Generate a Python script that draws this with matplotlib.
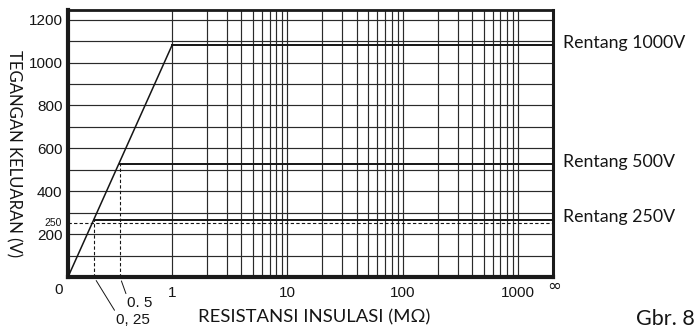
import numpy as np
import matplotlib
matplotlib.use('Agg')
import matplotlib.pyplot as plt

# data
range_names = ['Rentang 1000V', 'Rentang 500V', 'Rentang 250V']
range_volt = [1080, 525, 265]
knee_res = [1.0, 0.5, 0.25]
diag_res = [0, 1.0]
diag_volt = [0, 1080]
ref_volt = 250
grid_volt = [100, 200, 300, 400, 500, 600, 700, 800, 900, 1000, 1100, 1200]
grid_res = [1, 2, 3, 4, 5, 6, 7, 8, 9,
            10, 20, 30, 40, 50, 60, 70, 80, 90,
            100, 200, 300, 400, 500, 600, 700, 800, 900, 1000]
ytick_vals = [200, 400, 600, 800, 1000, 1200]
xtick_vals = [1, 10, 100, 1000]
xtick_labels = ['1', '10', '100', '1000']
res_inf = 2000  # where the "infinity" edge sits

K = 1.11  # log decade width relative to the linear 0..1 part


def fwd(r):
    r = np.asarray(r, dtype=float)
    return np.where(r <= 1, r, 1 + K * np.log10(np.maximum(r, 1)))


def inv(u):
    u = np.asarray(u, dtype=float)
    return np.where(u <= 1, u, 10 ** ((np.minimum(u, 20) - 1) / K))


num_font = ['Liberation Sans']
txt_font = ['Lato', 'DejaVu Sans']
ink = '#151515'

fig = plt.figure(figsize=(6.97, 3.29), dpi=100)
ax = fig.add_axes([68 / 697, 52 / 329, 485 / 697, 267 / 329])
ax.set_xscale('function', functions=(fwd, inv))
ax.set_xlim(0, res_inf)
ax.set_ylim(0, 1245)

# grid
for v in grid_volt:
    ax.axhline(v, color='#2a2a2a', lw=0.85, zorder=1)
for r in grid_res:
    ax.axvline(r, color='#2a2a2a', lw=0.85, zorder=1)

# curves
ax.plot(diag_res, diag_volt, color=ink, lw=1.1, zorder=3)
for r0, v in zip(knee_res, range_volt):
    ax.plot([r0, res_inf], [v, v], color=ink, lw=1.4, zorder=3)
for r0, v in zip(knee_res[1:], range_volt[1:]):
    ax.plot([r0, r0], [0, v], color=ink, lw=0.8, ls=(0, (3, 2)), zorder=2)
ax.axhline(ref_volt, color=ink, lw=0.8, ls=(0, (3, 2)), zorder=2)

for s in ax.spines.values():
    s.set_color('#1a1a1a')
ax.spines['left'].set_linewidth(3)
ax.spines['bottom'].set_linewidth(3)
ax.spines['top'].set_linewidth(2)
ax.spines['right'].set_linewidth(2.2)

ax.set_yticks(ytick_vals)
ax.set_yticklabels([str(v) for v in ytick_vals], family=num_font, fontsize=11, color=ink)
ax.set_xticks(xtick_vals)
ax.set_xticklabels(xtick_labels, family=num_font, fontsize=11, color=ink)
ax.xaxis.set_minor_locator(matplotlib.ticker.NullLocator())
ax.tick_params(axis='y', length=0, pad=4)
ax.tick_params(axis='x', length=0, pad=6.5)

ax.text(-0.012, ref_volt, '250', transform=ax.get_yaxis_transform(), ha='right', va='center',
        family=num_font, fontsize=7.5, color=ink)
ax.annotate('0', xy=(0, 0), xytext=(-3.5, -4), textcoords='offset points', ha='right', va='top',
            family=num_font, fontsize=11, color=ink)
ax.annotate('\u221e', xy=(res_inf, 0), xytext=(1, -6.5), textcoords='offset points', ha='center',
            va='center', family='DejaVu Sans', fontsize=12, color=ink)

# leader labels for the knee points
ax.annotate('0. 5', xy=(0.5, 0), xytext=(5, -19), textcoords='offset points', ha='left', va='center',
            family=num_font, fontsize=11, color=ink, annotation_clip=False,
            arrowprops=dict(arrowstyle='-', color=ink, lw=0.7, shrinkA=0, shrinkB=3, relpos=(0, 1)))
ax.annotate('0, 25', xy=(0.25, 0), xytext=(16, -31), textcoords='offset points', ha='left', va='center',
            family=num_font, fontsize=11, color=ink, annotation_clip=False,
            arrowprops=dict(arrowstyle='-', color=ink, lw=0.7, shrinkA=0, shrinkB=3, relpos=(0, 1)))

# range labels on the right
for name, v in zip(range_names, range_volt):
    ax.annotate(name, xy=(1, v), xycoords=('axes fraction', 'data'), xytext=(7, 2),
                textcoords='offset points', ha='left', va='center', family=txt_font,
                fontsize=12.8, color=ink, annotation_clip=False)

fig.text(14 / 697, 1 - 154 / 329, 'TEGANGAN KELUARAN (V)', rotation=270, ha='center', va='center',
         family=txt_font, fontsize=12, color=ink)
fig.text(314 / 697, 1 - 317 / 329, 'RESISTANSI INSULASI (M\u03a9)', ha='center', va='center',
         family=txt_font, fontsize=13.3, color=ink)
fig.text(695 / 697, 1 - 319 / 329, 'Gbr. 8', ha='right', va='center', family=txt_font,
         fontsize=15.5, color=ink)

fig.savefig('out.png', dpi=100, facecolor='white')
